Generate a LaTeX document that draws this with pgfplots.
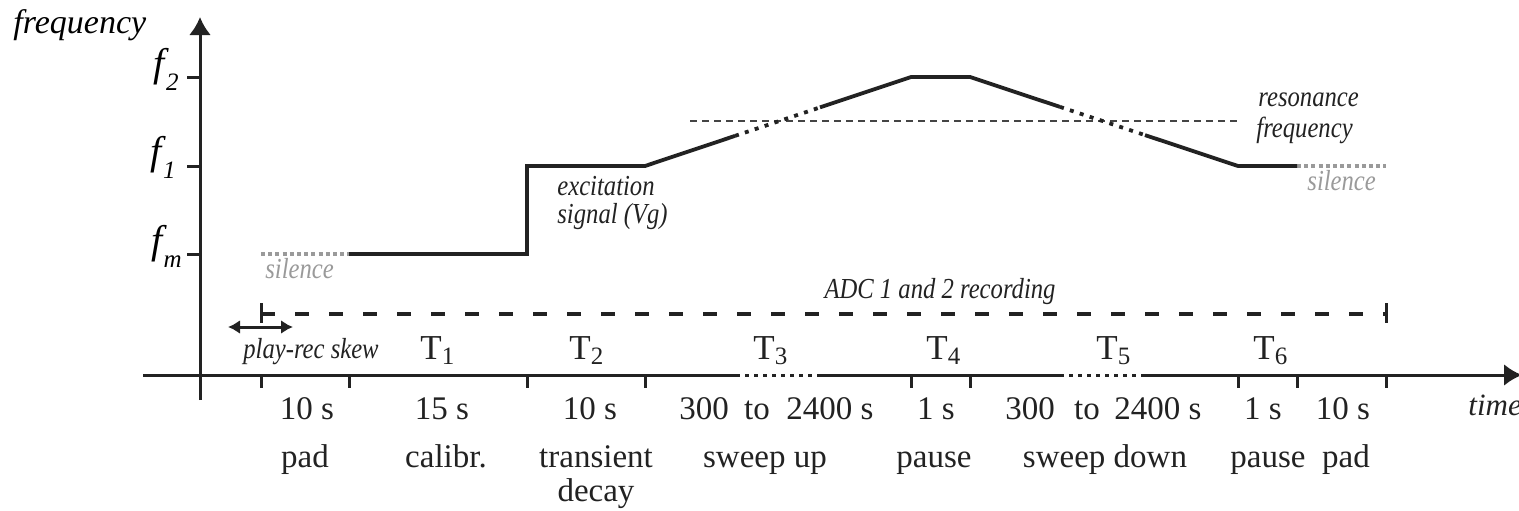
\documentclass[border=0pt]{standalone}
\usepackage{fontspec}
\setmainfont{Liberation Serif}
\newfontfamily\condrm{Liberation Serif}
\newfontfamily\condit[FakeStretch=0.85]{Liberation Serif}
\usepackage{pgfplots}
\pgfplotsset{compat=1.18}
\usetikzlibrary{arrows.meta}
\definecolor{ink}{HTML}{222222}
\definecolor{silgray}{HTML}{9A9A9A}
\definecolor{resgray}{HTML}{444444}
\newcommand\rmL{\condrm\fontsize{16.5}{18}\selectfont}
\newcommand\itL{\condit\itshape\fontsize{14.5}{16}\selectfont}
\newcommand\Tl[1]{{\condrm\fontsize{17.5}{18}\selectfont T\raisebox{-2.5pt}{\fontsize{12.5}{13}\selectfont #1}}}
\newcommand\fl[1]{{\fontsize{20}{21}\selectfont\itshape f\kern0.5pt\raisebox{-7pt}{\fontsize{12.5}{13}\selectfont #1}}}
\begin{document}
\begin{tikzpicture}
\begin{axis}[x=0.5pt,y=0.5pt,xmin=0,xmax=1519,ymin=0,ymax=510,
  hide axis,clip=false,anchor=south west,at={(0,0)},
  unbounded coords=jump,
  every axis plot/.append style={line join=miter,line cap=butt}]
% y axis
\addplot[ink,line width=1.5pt,-{Latex[length=9pt,width=11pt]}] coordinates {(200,110) (200,493)};
% y ticks
\addplot[ink,line width=1.5pt] coordinates {(187,433) (200,433) (nan,nan) (187,344) (200,344) (nan,nan) (187,256) (200,256)};
% x axis
\addplot[ink,line width=1.5pt] coordinates {(143,135) (736,135)};
\addplot[ink,line width=1.5pt,dash pattern=on 2pt off 2.5pt] coordinates {(736,135) (820,135)};
\addplot[ink,line width=1.5pt] coordinates {(820,135) (1060,135)};
\addplot[ink,line width=1.5pt,dash pattern=on 2pt off 2.5pt] coordinates {(1060,135) (1145,135)};
\addplot[ink,line width=1.5pt,-{Latex[length=9pt,width=11pt]}] coordinates {(1145,135) (1522,135)};
% x ticks
\addplot[ink,line width=1.5pt] coordinates {
(261,135) (261,122) (nan,nan) (349,135) (349,122) (nan,nan)
(527,135) (527,122) (nan,nan) (645,135) (645,122) (nan,nan)
(911,135) (911,122) (nan,nan) (970,135) (970,122) (nan,nan)
(1238,135) (1238,122) (nan,nan) (1297,135) (1297,122) (nan,nan)
(1386,135) (1386,122)};
% resonance frequency
\addplot[resgray,line width=1.1pt,dash pattern=on 3.5pt off 2.5pt] coordinates {(690,389) (1240,389)};
% silence
\addplot[silgray,line width=1.6pt,dash pattern=on 2pt off 1.6pt] coordinates {(261,256) (349,256)};
\addplot[silgray,line width=1.6pt,dash pattern=on 2pt off 1.6pt] coordinates {(1297,344) (1386,344)};
% excitation signal
\addplot[ink,line width=1.9pt] coordinates {(349,256) (527,256) (527,344) (645,344) (735,374.1)};
\addplot[ink,line width=1.9pt,dash pattern=on 2pt off 3.2pt] coordinates {(735,374.1) (820,402.6)};
\addplot[ink,line width=1.9pt] coordinates {(820,402.6) (911,433) (970,433) (1060,403.1)};
\addplot[ink,line width=1.9pt,dash pattern=on 2pt off 3.2pt] coordinates {(1060,403.1) (1145,374.9)};
\addplot[ink,line width=1.9pt] coordinates {(1145,374.9) (1238,344) (1297,344)};
% ADC recording
\addplot[ink,line width=1.8pt,dash pattern=on 7pt off 10pt] coordinates {(261,196) (1386,196)};
\addplot[ink,line width=1.5pt] coordinates {(261,207) (261,187) (nan,nan) (1386,207) (1386,187)};
% play-rec skew
\addplot[ink,line width=1.5pt,{Latex[length=6pt,width=7pt]}-{Latex[length=6pt,width=7pt]}] coordinates {(228,183) (293,183)};

% texts
\node[anchor=base west,inner sep=0] at (axis cs:13,477) {\fontsize{17}{18}\selectfont\itshape frequency};
\node[anchor=base east,inner sep=0] at (axis cs:179,434) {\fl{2}};
\node[anchor=base east,inner sep=0] at (axis cs:176,346) {\fl{1}};
\node[anchor=base east,inner sep=0] at (axis cs:182,257) {\fl{m}};
\node[anchor=base west,inner sep=0,text=silgray] at (axis cs:265,232) {\itL silence};
\node[anchor=base west,inner sep=0,text=silgray] at (axis cs:1307,320) {\itL silence};
\node[anchor=base west,inner sep=0,text=ink] at (axis cs:557,315) {\itL excitation};
\node[anchor=base west,inner sep=0,text=ink] at (axis cs:557,287) {\itL signal (Vg)};
\node[anchor=base west,inner sep=0,text=ink] at (axis cs:1258,404) {\itL resonance};
\node[anchor=base west,inner sep=0,text=ink] at (axis cs:1256,373) {\itL frequency};
\node[anchor=base,inner sep=0,text=ink] at (axis cs:940,212) {\itL ADC 1 and 2 recording};
\node[anchor=base west,inner sep=0,text=ink] at (axis cs:243,152) {\itL play-rec skew};
% T labels
\node[anchor=base west,inner sep=0,text=ink] at (axis cs:420,151) {\Tl{1}};
\node[anchor=base west,inner sep=0,text=ink] at (axis cs:569,151) {\Tl{2}};
\node[anchor=base west,inner sep=0,text=ink] at (axis cs:753,151) {\Tl{3}};
\node[anchor=base west,inner sep=0,text=ink] at (axis cs:926,151) {\Tl{4}};
\node[anchor=base west,inner sep=0,text=ink] at (axis cs:1096,151) {\Tl{5}};
\node[anchor=base west,inner sep=0,text=ink] at (axis cs:1253,151) {\Tl{6}};
% row 1
\node[anchor=base,inner sep=0,text=ink] at (axis cs:307,91) {\rmL 10 s};
\node[anchor=base,inner sep=0,text=ink] at (axis cs:442,91) {\rmL 15 s};
\node[anchor=base,inner sep=0,text=ink] at (axis cs:590,91) {\rmL 10 s};
\node[anchor=base,inner sep=0,text=ink] at (axis cs:704,91) {\rmL 300};
\node[anchor=base,inner sep=0,text=ink] at (axis cs:757,91) {\rmL to};
\node[anchor=base,inner sep=0,text=ink] at (axis cs:830,91) {\rmL 2400 s};
\node[anchor=base,inner sep=0,text=ink] at (axis cs:936,91) {\rmL 1 s};
\node[anchor=base,inner sep=0,text=ink] at (axis cs:1030,91) {\rmL 300};
\node[anchor=base,inner sep=0,text=ink] at (axis cs:1087,91) {\rmL to};
\node[anchor=base,inner sep=0,text=ink] at (axis cs:1158,91) {\rmL 2400 s};
\node[anchor=base,inner sep=0,text=ink] at (axis cs:1263,91) {\rmL 1 s};
\node[anchor=base,inner sep=0,text=ink] at (axis cs:1343,91) {\rmL 10 s};
\node[anchor=base west,inner sep=0,text=ink] at (axis cs:1468,95) {\fontsize{15.5}{17}\selectfont\itshape time};
% row 2
\node[anchor=base,inner sep=0,text=ink] at (axis cs:305,43) {\rmL pad};
\node[anchor=base,inner sep=0,text=ink] at (axis cs:446,43) {\rmL calibr.};
\node[anchor=base,inner sep=0,text=ink] at (axis cs:596,43) {\rmL transient};
\node[anchor=base,inner sep=0,text=ink] at (axis cs:765,43) {\rmL sweep up};
\node[anchor=base,inner sep=0,text=ink] at (axis cs:934,43) {\rmL pause};
\node[anchor=base,inner sep=0,text=ink] at (axis cs:1105,43) {\rmL sweep down};
\node[anchor=base,inner sep=0,text=ink] at (axis cs:1268,43) {\rmL pause};
\node[anchor=base,inner sep=0,text=ink] at (axis cs:1346,43) {\rmL pad};
% row 3
\node[anchor=base,inner sep=0,text=ink] at (axis cs:596,9) {\rmL decay};
\end{axis}
\pgfresetboundingbox
\path (0,0) rectangle (759.5pt,255pt);
\end{tikzpicture}
\end{document}
